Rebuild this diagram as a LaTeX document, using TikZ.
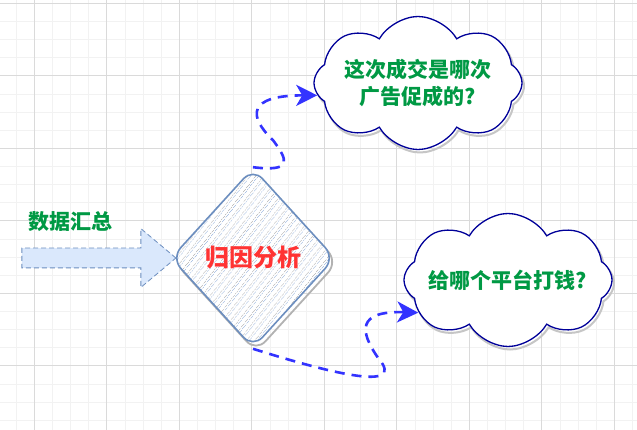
\documentclass[tikz,border=0pt]{standalone}
\usepackage{fontspec}
\newfontfamily\cjk{Noto Sans CJK SC}
\usetikzlibrary{shapes.geometric, shapes.symbols, shapes.arrows, shadows, patterns.meta, arrows.meta}
\definecolor{gridminor}{HTML}{F2F2F2}
\definecolor{gridmajor}{HTML}{DADADA}
\definecolor{sketchblue}{HTML}{6C8EBF}
\definecolor{arrowfill}{HTML}{DAE8FC}
\definecolor{cloudline}{HTML}{000099}
\definecolor{askgreen}{HTML}{009944}
\definecolor{hotred}{HTML}{FF3333}
\definecolor{flowblue}{HTML}{3333FF}
\tikzstyle{minorgrid} = [draw=gridminor, line width=0.8pt]
\tikzstyle{majorgrid} = [draw=gridmajor, line width=0.8pt]
\tikzstyle{inflowarrow} = [single arrow, draw=sketchblue, fill=arrowfill, dash pattern=on 5pt off 3pt, thick, minimum height=154pt, minimum width=58pt, single arrow head extend=19.5pt, single arrow tip angle=80, inner xsep=0pt, inner ysep=9.5pt]
\tikzstyle{decision} = [diamond, draw=sketchblue, line width=1.6pt, rounded corners=14pt, minimum width=164pt, minimum height=180pt, inner sep=0pt, general shadow={draw=gray!60, line width=1.8pt, shadow xshift=3pt, shadow yshift=-4pt}, preaction={fill=white}, preaction={pattern={Lines[angle=52,distance=6.5pt,line width=0.5pt]}, pattern color=gray!75}, preaction={pattern={Lines[angle=52,distance=6.5pt,line width=0.8pt,xshift=2.5pt]}, pattern color=arrowfill!60!sketchblue}, font=\cjk\bfseries\fontsize{24}{28}\selectfont, text=hotred]
\tikzstyle{cloudbox} = [cloud, cloud puffs=8, cloud puff arc=120, cloud ignores aspect, draw=cloudline, line width=1.3pt, fill=white, minimum width=208pt, minimum height=133pt, inner xsep=-120pt, inner ysep=-60pt, general shadow={draw=gray!45, line width=2pt, shadow xshift=2pt, shadow yshift=-3pt}, font=\cjk\bfseries\fontsize{21}{27}\selectfont, text=askgreen, align=center]
\tikzstyle{flow} = [draw=flowblue, line width=2.6pt, dash pattern=on 10pt off 7pt, ->]

\begin{document}
\begin{tikzpicture}[x=1pt, y=-1pt, >={Stealth[length=21pt,width=21pt,inset=6pt]}]
    \useasboundingbox[fill=white] (0,0) rectangle (637,430);
    % background grid
    \foreach \i in {0,...,35} \draw[minorgrid] ({-1.9+\i*18.125},0) -- ++(0,430);
    \foreach \j in {0,...,23} \draw[minorgrid] (0,{3.3+\j*18.125}) -- ++(637,0);
    \foreach \i in {0,...,8} \draw[majorgrid] ({34.3+\i*72.5},0) -- ++(0,430);
    \foreach \j in {0,...,5} \draw[majorgrid] (0,{3.3+\j*72.5}) -- ++(637,0);

    \node[inflowarrow] (inflow) at (93,258) {};
    \node[font=\cjk\bfseries\fontsize{21}{24}\selectfont, text=askgreen] (inlabel) at (70,222) {数据汇总};
    \node[decision] (analysis) at (253,258) {归因分析};
    \node[cloudbox] (ask1) at (418,83) {这次成交是哪次\\广告促成的?};
    \node[cloudbox] (ask2) at (508,280) {给哪个平台打钱?};

    \draw[flow] (analysis.north) .. controls +(40,5) and +(15,20) .. ++(20,-27) .. controls +(-25,-24) and +(-70,0) .. (ask1.187);
    \draw[flow] (analysis.south) .. controls +(67,21) and +(32,37) .. ++(125,9) .. controls +(-18,-26) and +(-62,-2) .. (ask2.200);
\end{tikzpicture}
\end{document}
